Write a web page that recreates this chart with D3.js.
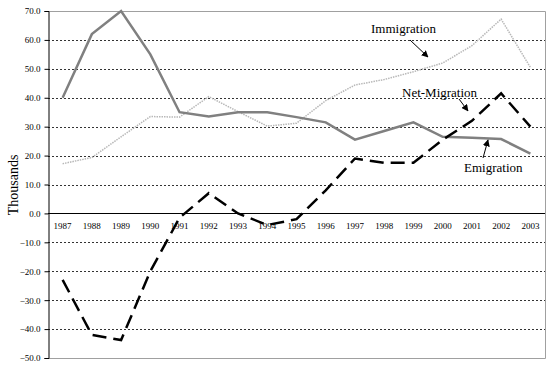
<!DOCTYPE html>
<html><head><meta charset="utf-8">
<script src="https://cdn.jsdelivr.net/npm/d3@7"></script>
<style>body{margin:0;background:#fff}svg{display:block}</style>
</head><body>
<svg id="c" width="557" height="369"></svg>
<script>
const years = ["1987","1988","1989","1990","1991","1992","1993","1994","1995","1996","1997","1998","1999","2000","2001","2002","2003"];
const emigration = [40, 62, 70, 55, 35, 33.5, 35, 35, 33.3, 31.5, 25.5, 28.5, 31.5, 26.5, 26.2, 25.7, 20.7];
const immigration = [17.2, 19.3, 26.5, 33.5, 33.3, 40.4, 35.2, 30.2, 31.2, 39, 44.4, 46.3, 49, 52, 58, 67.2, 50.5];
const netMigration = [-23, -42, -43.8, -20, -1.5, 7, 0, -4, -2, 8, 19, 17.5, 17.5, 25.5, 32, 41.5, 30];
const yTicks = [70, 60, 50, 40, 30, 20, 10, 0, -10, -20, -30, -40, -50];

const svg = d3.select("#c");
const L = 48, R = 545, T = 11, B = 358;
const x = d3.scaleBand().domain(years).range([L, R]);
const y = d3.scaleLinear().domain([-50, 70]).range([B, T]);
const cx = d => x(d) + x.bandwidth() / 2;

// gridlines
svg.append("g").selectAll("line").data(yTicks.filter(v => v !== 70 && v !== -50 && v !== 0)).join("line")
  .attr("x1", L).attr("x2", R).attr("y1", d => Math.round(y(d)) + 0.5).attr("y2", d => Math.round(y(d)) + 0.5)
  .attr("stroke", "#333").attr("stroke-width", 1).attr("stroke-dasharray", "2,2");

// border (top, right, bottom)
svg.append("path")
  .attr("d", `M${L},${T + 0.5}H${R + 0.5}V${B + 0.5}H${L}`)
  .attr("fill", "none").attr("stroke", "#a0a0a0").attr("stroke-width", 1);

// y axis
const yAxis = d3.axisLeft(y).tickValues(yTicks).tickSize(4).tickPadding(4).tickFormat(d3.format(".1f"));
const gy = svg.append("g").attr("transform", `translate(${L + 0.5},0)`).call(yAxis);
gy.select(".domain").attr("stroke", "#000");
gy.selectAll(".tick line").attr("stroke", "#000");
gy.selectAll(".tick text").attr("font-family", "Liberation Serif, Times New Roman, serif").attr("font-size", 9).attr("fill", "#000");

// zero line
svg.append("line").attr("x1", L).attr("x2", R).attr("y1", Math.round(y(0)) + 0.5).attr("y2", Math.round(y(0)) + 0.5)
  .attr("stroke", "#000").attr("stroke-width", 1);

// x labels just below zero line
const xAxis = d3.axisBottom(x).tickSize(0).tickPadding(9);
const gx = svg.append("g").attr("transform", `translate(0,${y(0)})`).call(xAxis);
gx.select(".domain").remove();
gx.selectAll(".tick text").attr("font-family", "Liberation Serif, Times New Roman, serif").attr("font-size", 9).attr("fill", "#000");

const line = d3.line().x((d, i) => cx(years[i])).y(d => y(d));

svg.append("path").datum(immigration).attr("d", line).attr("fill", "none")
  .attr("stroke", "#b8b8b8").attr("stroke-width", 1.5).attr("stroke-dasharray", "1.5,1");
svg.append("path").datum(emigration).attr("d", line).attr("fill", "none")
  .attr("stroke", "#808080").attr("stroke-width", 2.5);
svg.append("path").datum(netMigration).attr("d", line).attr("fill", "none")
  .attr("stroke", "#000").attr("stroke-width", 2.5).attr("stroke-dasharray", "14,7");

// y label
svg.append("text").attr("transform", "translate(18,185) rotate(-90)").attr("text-anchor", "middle")
  .attr("font-family", "Liberation Serif, Times New Roman, serif").attr("font-size", 14).text("Thousands");

// annotations
const ann = svg.append("g").attr("font-family", "Liberation Serif, Times New Roman, serif").attr("font-size", 13).attr("fill", "#000");
ann.append("text").attr("x", 371).attr("y", 33).text("Immigration");
ann.append("text").attr("x", 402).attr("y", 97).text("Net-Migration");
ann.append("text").attr("x", 464).attr("y", 172).text("Emigration");

svg.append("defs").append("marker").attr("id", "ah").attr("viewBox", "0 0 10 10").attr("refX", 9).attr("refY", 5)
  .attr("markerWidth", 7).attr("markerHeight", 7).attr("markerUnits", "userSpaceOnUse").attr("orient", "auto")
  .append("path").attr("d", "M0,0L10,5L0,10z").attr("fill", "#000");
const arrows = [[410, 40, 428, 57], [459, 99, 468, 111], [483, 158, 488, 140]];
svg.append("g").selectAll("line").data(arrows).join("line")
  .attr("x1", d => d[0]).attr("y1", d => d[1]).attr("x2", d => d[2]).attr("y2", d => d[3])
  .attr("stroke", "#000").attr("stroke-width", 1).attr("marker-end", "url(#ah)");
</script>
</body></html>
